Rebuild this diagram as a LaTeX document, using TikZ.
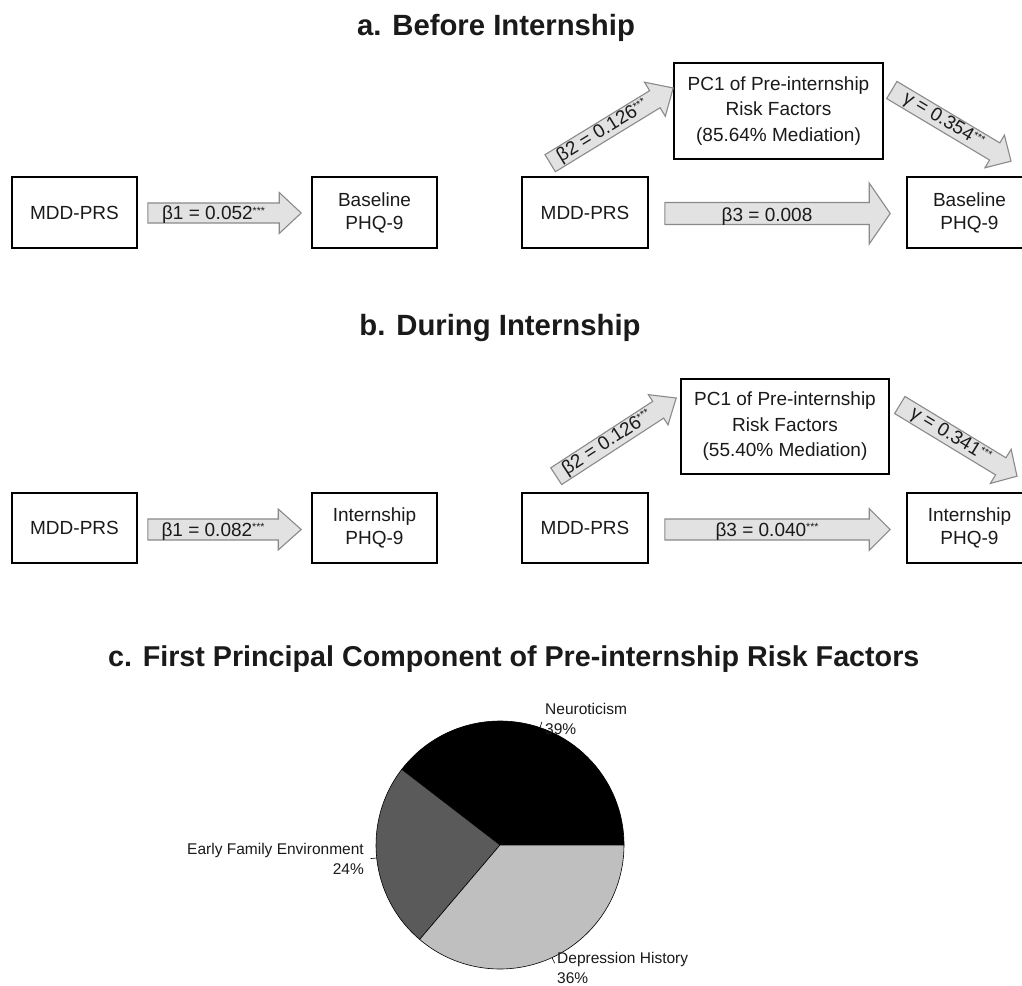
\documentclass[tikz,border=0pt]{standalone}
\usepackage{fontspec}
\setmainfont{Liberation Sans}
\usetikzlibrary{calc}
\definecolor{arrfill}{HTML}{E2E2E2}
\definecolor{arrline}{HTML}{8A8A8A}
\definecolor{txt}{HTML}{1A1A1A}
\definecolor{efe}{HTML}{5A5A5A}
\definecolor{dep}{HTML}{BFBFBF}
\newcommand\stars{{\fontsize{10.5}{10}\selectfont\raisebox{5.5pt}{***}}}
\newcommand\blockarrow[7][0]{%
  \path let \p1=(#2), \p2=(#3) in \pgfextra{%
    \pgfmathsetmacro\ba{atan2(\y2-\y1,\x2-\x1)}%
    \pgfmathsetmacro\bl{veclen(\x2-\x1,\y2-\y1)}%
    \xdef\BAang{\ba}\xdef\BAlen{\bl}\xdef\BAx{\x1}\xdef\BAy{\y1}};
  \begin{scope}[shift={(\BAx,\BAy)}, rotate=\BAang]
    \draw[barrow] (0pt,-#4pt) -- ({\BAlen pt-#6pt},-#4pt) -- ({\BAlen pt-#6pt},-#5pt)
      -- (\BAlen pt,0pt) -- ({\BAlen pt-#6pt},#5pt) -- ({\BAlen pt-#6pt},#4pt) -- (0pt,#4pt) -- cycle;
    \node[barrowlabel, rotate=\BAang] at ({(\BAlen pt-#6pt)/2},#1pt) {#7};
  \end{scope}}
\tikzset{
  box/.style={draw=black, line width=1.6pt, inner sep=0pt, align=center, text=txt,
    font=\fontsize{19}{23}\selectfont},
  pcbox/.style={box, font=\fontsize{19}{25.5}\selectfont},
  barrow/.style={fill=arrfill, draw=arrline, line width=1.1pt, line join=miter},
  barrowlabel/.style={inner sep=0pt, text=txt, font=\fontsize{19}{23}\selectfont},
  ttl/.style={inner sep=0pt, text=txt, font=\fontsize{29.3}{34}\selectfont\bfseries},
  ttlc/.style={ttl, font=\fontsize{28.7}{34}\selectfont\bfseries},
  pielabel/.style={inner sep=0pt, text=txt, font=\fontsize{15.5}{20}\selectfont},
  tick/.style={draw=black, line width=0.6pt}
}
\begin{document}
\begin{tikzpicture}[x=1pt, y=-1pt]
\useasboundingbox[fill=white] (0,0) rectangle (1022,985);

% ---------- a. Before Internship ----------
\node[ttl, anchor=base] (ta) at (496,35) {a. Before Internship};
\node[box, minimum width=125, minimum height=71] (a1) at (74.5,212.5) {MDD-PRS};
\node[box, minimum width=125, minimum height=71] (a2) at (374.5,212.5) {Baseline\\PHQ-9};
\node[box, minimum width=126, minimum height=71] (a3) at (585,212.5) {MDD-PRS};
\node[pcbox, minimum width=209, minimum height=96] (a4) at (778.5,111) {PC1 of Pre-internship\\Risk Factors\\(85.64\% Mediation)};
\node[box, minimum width=125, minimum height=71] (a5) at (969.5,212.5) {Baseline\\PHQ-9};

\blockarrow[-2]{$(a1.east)+(10,0.5)$}{$(a2.west)+(-10,0.5)$}{10}{20.5}{22}{β1 = 0.052\stars}
\blockarrow[-3]{$(a3.east)+(16,1)$}{$(a5.west)+(-16,1)$}{11}{30.5}{21}{β3 = 0.008}
\blockarrow{$(a3.north west)+(29,-13)$}{$(a4.west)+(0,-23)$}{10}{20}{21.5}{β2 = 0.126\stars}
\blockarrow{$(a4.east)+(8,-21)$}{$(a5.north)+(41.5,-15)$}{10}{19}{19}{γ = 0.354\stars}

% ---------- b. During Internship ----------
\node[ttl, anchor=base] (tb) at (500,335) {b. During Internship};
\node[box, minimum width=125, minimum height=70] (b1) at (74.5,528) {MDD-PRS};
\node[box, minimum width=125, minimum height=70] (b2) at (374.5,528) {Internship\\PHQ-9};
\node[box, minimum width=126, minimum height=70] (b3) at (585,528) {MDD-PRS};
\node[pcbox, minimum width=208, minimum height=95] (b4) at (785,426.5) {PC1 of Pre-internship\\Risk Factors\\(55.40\% Mediation)};
\node[box, minimum width=125, minimum height=70] (b5) at (969.5,528) {Internship\\PHQ-9};

\blockarrow[-2]{$(b1.east)+(10,1.5)$}{$(b2.west)+(-10,1.5)$}{10.5}{20.5}{23}{β1 = 0.082\stars}
\blockarrow[-2]{$(b3.east)+(16,1.5)$}{$(b5.west)+(-16,1.5)$}{10.5}{21}{21}{β3 = 0.040\stars}
\blockarrow{$(b3.north west)+(35,-16)$}{$(b4.west)+(-4,-28.5)$}{10}{18}{21.5}{β2 = 0.126\stars}
\blockarrow{$(b4.east)+(10,-21.5)$}{$(b5.north)+(47.5,-16)$}{10}{20}{19}{γ = 0.341\stars}

% ---------- c. Pie chart ----------
\node[ttlc, anchor=base west] (tc) at (108,666) {c. First Principal Component of Pre-internship Risk Factors};
\coordinate (pc) at (500,845);
\begin{scope}[shift={(pc)}, yscale=-1]
  \filldraw[fill=black, draw=black, line width=0.6pt] (0,0) -- (0:124) arc[start angle=0, end angle=142.4, radius=124] -- cycle;
  \filldraw[fill=efe, draw=black, line width=0.6pt] (0,0) -- (142.4:124) arc[start angle=142.4, end angle=229.6, radius=124] -- cycle;
  \filldraw[fill=dep, draw=black, line width=0.6pt] (0,0) -- (229.6:124) arc[start angle=229.6, end angle=360, radius=124] -- cycle;
  \coordinate (n1) at (71.2:124);  \coordinate (n2) at (71.2:130.2);
  \coordinate (e1) at (186:124);   \coordinate (e2) at (186:130.2);
  \coordinate (d1) at (294.8:124); \coordinate (d2) at (294.8:130.2);
\end{scope}
\draw[tick] (n1) -- (n2);
\draw[tick] (e1) -- (e2);
\draw[tick] (d1) -- (d2);
\node[pielabel, anchor=west, align=left] (ln) at (545,719) {Neuroticism\\39\%};
\node[pielabel, anchor=east, align=right] (le) at (364,859) {Early Family Environment\\24\%};
\node[pielabel, anchor=west, align=left] (ld) at (557,968) {Depression History\\36\%};
\end{tikzpicture}
\end{document}
